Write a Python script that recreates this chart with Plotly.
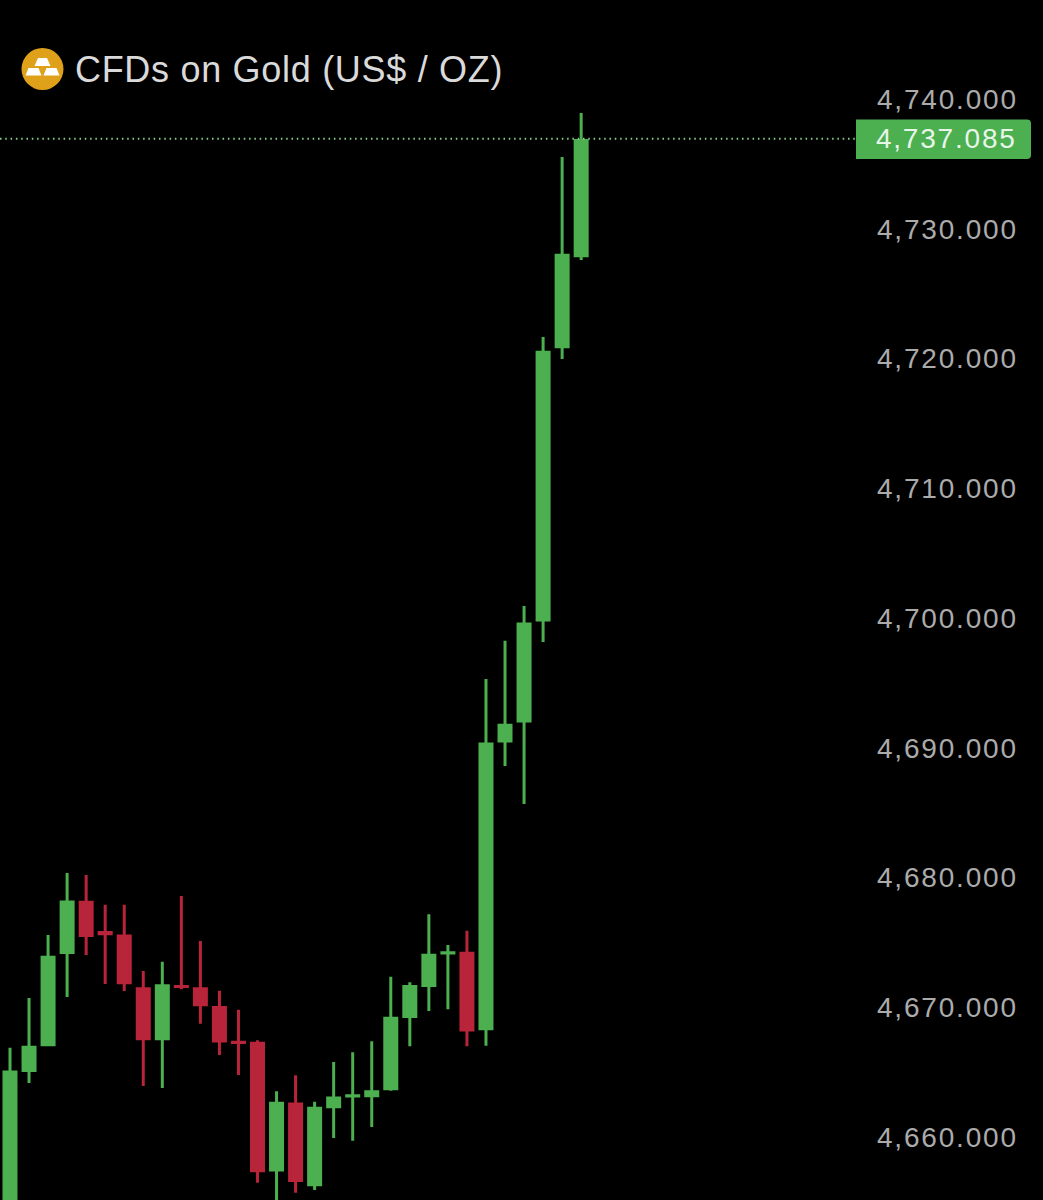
import plotly.graph_objects as go

opens = [4653.0, 4665.29, 4667.27, 4674.38, 4678.24, 4675.92, 4675.65, 4671.59, 4667.73, 4671.76, 4671.59,
         4670.13, 4667.45, 4667.38, 4657.61, 4662.70, 4656.48, 4662.49, 4663.32, 4663.34, 4663.88, 4669.45,
         4671.84, 4674.34, 4674.31, 4668.50, 4690.67, 4692.22, 4700.00, 4721.06, 4728.08]
highs = [4667.04, 4670.87, 4675.72, 4680.50, 4680.35, 4678.06, 4678.06, 4672.95, 4673.67, 4678.73, 4675.26,
         4671.43, 4669.97, 4667.61, 4663.68, 4664.91, 4662.88, 4665.94, 4666.68, 4667.53, 4672.51, 4672.08,
         4677.32, 4674.95, 4676.06, 4695.45, 4698.41, 4701.08, 4721.81, 4735.68, 4739.08]
lows = [4651.0, 4664.32, 4667.17, 4670.95, 4674.18, 4671.95, 4671.41, 4664.09, 4663.93, 4671.54, 4668.89,
        4666.48, 4664.93, 4656.63, 4654.91, 4655.86, 4656.07, 4660.08, 4659.87, 4660.93, 4663.72, 4667.15,
        4669.87, 4670.00, 4667.15, 4667.19, 4688.75, 4685.82, 4698.31, 4720.12, 4727.75]
closes = [4665.17, 4667.07, 4674.01, 4678.27, 4675.69, 4675.82, 4672.05, 4667.73, 4671.82, 4671.75, 4670.35,
          4667.55, 4667.43, 4657.56, 4662.75, 4656.81, 4662.37, 4663.16, 4663.33, 4663.65, 4669.30, 4671.75,
          4674.16, 4674.35, 4668.40, 4690.44, 4691.89, 4699.69, 4720.63, 4728.11, 4736.96]
bar_index = list(range(len(opens)))
tick_values = [4660, 4670, 4680, 4690, 4700, 4710, 4720, 4730, 4740]
last_price = 4737.085
title_text = "CFDs on Gold (US$ / OZ)"

GREEN = "#4CAF50"
RED = "#B8243A"
FONT = "'Liberation Sans', Arial, sans-serif"
W, H, R = 1043, 1200, 173
PLOT_W = W - R


def px(x):
    return x / PLOT_W


def py(y):
    return 1 - y / H


fig = go.Figure(
    go.Candlestick(
        x=bar_index, open=opens, high=highs, low=lows, close=closes,
        whiskerwidth=0,
        increasing=dict(line=dict(color=GREEN, width=3), fillcolor=GREEN),
        decreasing=dict(line=dict(color=RED, width=3), fillcolor=RED),
        showlegend=False, hoverinfo="skip",
    )
)

# rounded price tag
l, r, t, b, c = 856, 1031, 119.5, 159, 4
tag = (f"M {px(l)} {py(t)} L {px(r-c)} {py(t)} Q {px(r)} {py(t)} {px(r)} {py(t+c)} "
       f"L {px(r)} {py(b-c)} Q {px(r)} {py(b)} {px(r-c)} {py(b)} L {px(l)} {py(b)} Z")

# gold bars icon
def bar(cx, top, bottom, half_top, half_bot):
    return (f"M {px(cx-half_top)} {py(top)} L {px(cx+half_top)} {py(top)} "
            f"L {px(cx+half_bot)} {py(bottom)} L {px(cx-half_bot)} {py(bottom)} Z")


shapes = [
    dict(type="line", xref="paper", yref="y", x0=0, x1=px(855), y0=last_price, y1=last_price,
         line=dict(color="#86CF8A", width=2, dash="1.5px 3.8px")),
    dict(type="path", xref="paper", yref="paper", path=tag, fillcolor=GREEN, line=dict(width=0)),
    dict(type="circle", xref="paper", yref="paper", x0=px(21.5), x1=px(63.5), y0=py(48), y1=py(90),
         fillcolor="#DFA01A", line=dict(width=0)),
    dict(type="path", xref="paper", yref="paper", path=bar(42.5, 58, 66, 4.5, 8), fillcolor="#FFFFFF", line=dict(width=0)),
    dict(type="path", xref="paper", yref="paper", path=bar(33.5, 68, 75.5, 5, 8), fillcolor="#FFFFFF", line=dict(width=0)),
    dict(type="path", xref="paper", yref="paper", path=bar(51.5, 68, 75.5, 5, 8), fillcolor="#FFFFFF", line=dict(width=0)),
]

annotations = [
    dict(text=title_text, xref="paper", yref="paper", x=px(80.5), y=py(69), xanchor="left", yanchor="middle",
         showarrow=False, font=dict(family=FONT, size=36, color="#DADADA")),
    dict(text=f"{last_price:,.3f}", xref="paper", yref="paper", x=px(946), y=py(138.5), xanchor="center",
         yanchor="middle", showarrow=False, font=dict(family=FONT, size=28, color="#E8F5E9")),
]

fig.update_layout(
    width=W, height=H, autosize=False,
    margin=dict(l=0, r=R, t=0, b=0, pad=0),
    paper_bgcolor="#000000", plot_bgcolor="#000000",
    showlegend=False, shapes=shapes, annotations=annotations,
    boxgap=0.37, boxgroupgap=0,
    xaxis=dict(range=[-0.525, 45.17], visible=False, rangeslider=dict(visible=False), fixedrange=True),
    yaxis=dict(range=[4655.30, 4747.784], side="right", tickvals=tick_values, tickformat=",.3f",
               showgrid=False, zeroline=False, showline=False, ticks="", ticklabelstandoff=6,
               ticklabelshift=-2,
               tickfont=dict(family=FONT, size=28, color="#ABABAB"), fixedrange=True),
)

css = (".ytick text, .annotation[data-index='1'] text {letter-spacing:1.8px;}"
       ".annotation[data-index='0'] text {letter-spacing:0.7px;}")
fig.write_html("out.html", config=dict(displayModeBar=False),
               post_script=("document.body.style.margin='0';"
                            "var s=document.createElement('style');s.textContent=\"" + css + "\";"
                            "document.head.appendChild(s);"))
